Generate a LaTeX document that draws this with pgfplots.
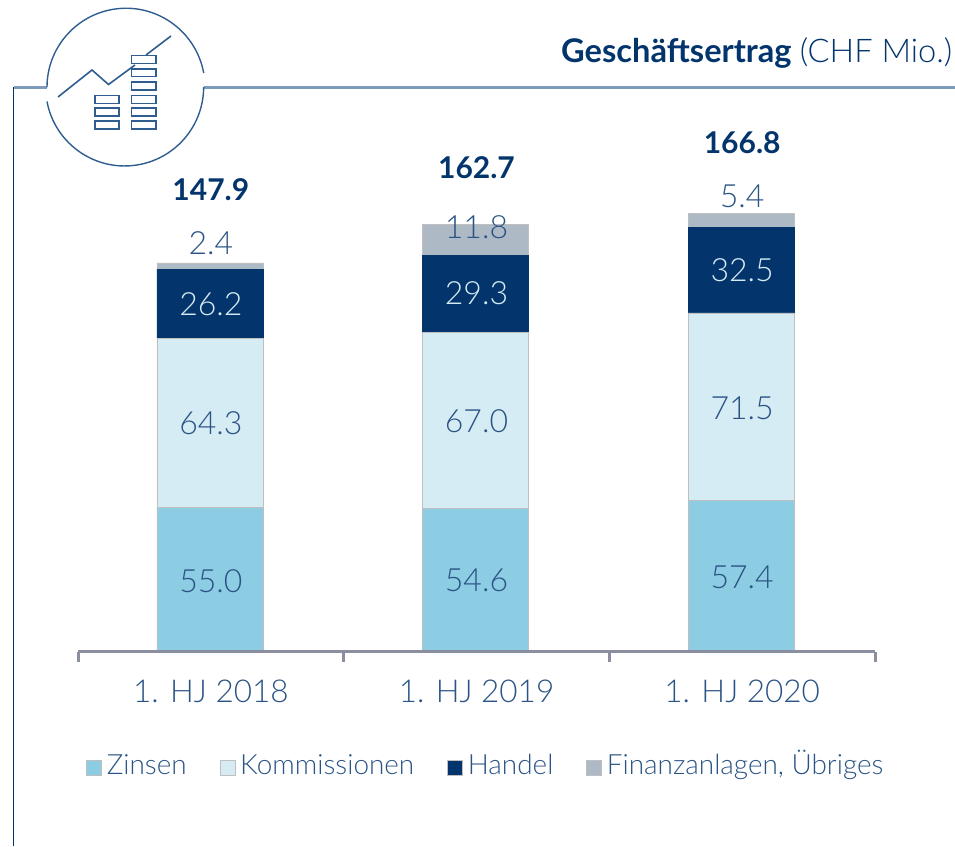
\documentclass[border=0pt]{standalone}
\usepackage{fontspec}
\setmainfont{Lato}
\newfontfamily\lt{Lato Light}
\usepackage{pgfplots}
\pgfplotsset{compat=1.18}
\usepackage{pgfplotstable}
\definecolor{cZ}{HTML}{8CCDE3}
\definecolor{cK}{HTML}{D6ECF4}
\definecolor{cH}{HTML}{03356C}
\definecolor{cF}{HTML}{AEB9C6}
\definecolor{txt}{HTML}{2B5485}
\definecolor{navy}{HTML}{03356C}
\definecolor{frame}{HTML}{7F9BBB}
\definecolor{icon}{HTML}{2F5D8F}
\definecolor{axisc}{HTML}{8A8E9E}
\pgfplotstableread{
x z k h f
0.5 55.0 64.3 26.2 2.4
1.5 54.6 67.0 29.3 11.8
2.5 57.4 71.5 32.5 5.4
}\bars
\pgfplotsset{base/.style={
  at={(78pt,194.5pt)},anchor=origin,
  scale only axis,width=797pt,height=525.4pt,
  xmin=0,xmax=3,ymin=0,ymax=200}}
\begin{document}
\begin{tikzpicture}[x=1pt,y=1pt]
\clip (0,0) rectangle (955,846);
\begin{scope}[shift={(0,846)},y=-1pt]
\draw[navy,line width=1.6pt] (13.5,846) -- (13.5,87.5);
\draw[frame,line width=2.2pt] (13.5,87.5) -- (46.5,87.5);
\draw[frame,line width=2.2pt] (204,87.5) -- (955,87.5);
\draw[icon,line width=1.4pt] (203.7,73) arc[start angle=-10.4,end angle=-180,radius=79];
\draw[icon,line width=1.4pt] (47,101.5) arc[start angle=190.6,end angle=360,radius=79,y radius=-79];
\draw[icon,line width=1.6pt] (58,97) -- (92,70) -- (108.5,84.5) -- (135,65);
\draw[icon,line width=1.6pt] (146,55) -- (171,36);
\foreach \a/\b in {95.5/103.5,108/116,121/129}
  \draw[icon,line width=1.6pt] (95,\a) rectangle (119,\b);
\foreach \a/\b in {55.5/63.5,69/76.5,82/90,95.5/103.5,108/116,121/129}
  \draw[icon,line width=1.6pt] (131.5,\a) rectangle (156,\b);
\node[anchor=base west,inner sep=0pt,text=navy,font=\fontsize{32.6}{36}\selectfont] at (561,63)
  {\textbf{Geschäftsertrag} {\lt (CHF Mio.)}};
\end{scope}
\begin{axis}[base,
  ybar stacked,bar width=106pt,bar shift=-1pt,
  axis y line=none,axis x line*=bottom,
  x axis line style={draw=none},
  xtick={0.5,1.5,2.5},
  xticklabels={1. HJ 2018,1. HJ 2019,1. HJ 2020},
  major x tick style={draw=none},
  xticklabel style={font=\fontsize{31.5}{36}\selectfont\lt,text=txt,yshift=-24.5pt},
  legend style={draw=none,fill=none,at={(0.01,-0.192)},anchor=north west,legend columns=-1,
    font=\fontsize{27.9}{32}\selectfont\lt,text=txt,inner sep=0pt,
    nodes={text height=20pt,text depth=7pt},
    /tikz/every even column/.append style={column sep=31pt},
    /tikz/every odd column/.append style={column sep=3pt}},
  legend image code/.code={\draw[#1,draw=black!25,line width=.6pt] (0pt,-7pt) rectangle (15pt,8pt);},
  clip=false]
\addplot[fill=cZ,draw=black!25,line width=.6pt] table[x=x,y=z]{\bars};
\addplot[fill=cK,draw=black!25,line width=.6pt] table[x=x,y=k]{\bars};
\addplot[fill=cH,draw=cH,line width=.6pt] table[x=x,y=h]{\bars};
\addplot[fill=cF,draw=black!25,line width=.6pt] table[x=x,y=f]{\bars};
\legend{Zinsen,Kommissionen,Handel,{Finanzanlagen, Übriges}}
\end{axis}
\begin{axis}[base,hide y axis,axis x line*=bottom,clip=false,
  x axis line style={-,line width=3pt,color=axisc},
  xtick={0,1,2,3},xticklabels={},
  tick style={line width=3pt,color=axisc},
  major tick length=10pt,
  xtick align=outside]
\addplot[only marks,mark=none,nodes near coords,point meta=explicit symbolic,
  nodes near coords style={anchor=center,inner sep=0pt,text=txt,font=\fontsize{32}{36}\selectfont\lt}]
  table[x=x,y=y,meta=l]{
x y l
0.5 26.8 55.0
0.5 87.0 64.3
0.5 155.5 2.4
1.5 27.2 54.6
1.5 87.7 67.0
1.5 161.6 11.8
2.5 28.4 57.4
2.5 92.7 71.5
2.5 173.4 5.4
};
\addplot[only marks,mark=none,nodes near coords,point meta=explicit symbolic,
  nodes near coords style={anchor=center,inner sep=0pt,text=cK,font=\fontsize{32}{36}\selectfont\lt}]
  table[x=x,y=y,meta=l]{
x y l
0.5 132.3 26.2
1.5 136.5 29.3
2.5 145.2 32.5
};
\addplot[only marks,mark=none,nodes near coords,point meta=explicit symbolic,
  nodes near coords style={anchor=center,inner sep=0pt,text=navy,font=\fontsize{30}{34}\selectfont\bfseries}]
  table[x=x,y=y,meta=l]{
x y l
0.5 175.7 147.9
1.5 184.0 162.7
2.5 193.6 166.8
};
\end{axis}
\end{tikzpicture}
\end{document}
